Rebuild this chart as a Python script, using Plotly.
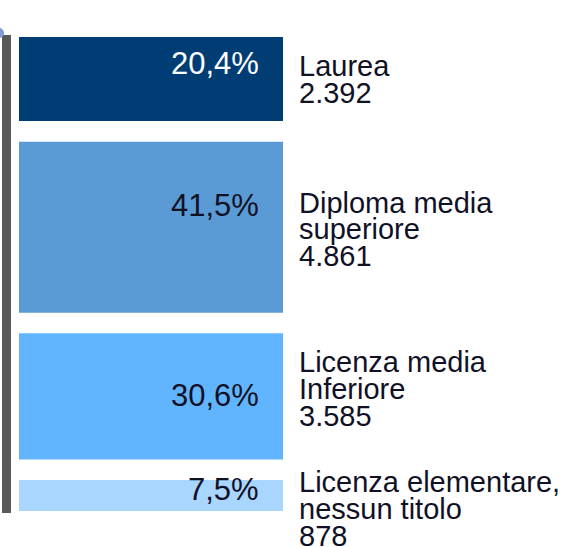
import plotly.graph_objects as go

# ---- data ----
categories = ["Laurea", "Diploma media superiore", "Licenza media Inferiore",
              "Licenza elementare, nessun titolo"]
category_lines = [["Laurea"], ["Diploma media", "superiore"],
                  ["Licenza media", "Inferiore"], ["Licenza elementare,", "nessun titolo"]]
percent = [20.4, 41.5, 30.6, 7.5]
percent_labels = ["20,4%", "41,5%", "30,6%", "7,5%"]
counts = [2392, 4861, 3585, 878]
count_labels = ["2.392", "4.861", "3.585", "878"]

# ---- style ----
colors = ["#003d74", "#5b9bd5", "#61b5ff", "#a8d6ff"]
pct_colors = ["#ffffff", "#111126", "#111126", "#111126"]
pct_pos = [0.32, 0.374, 0.49, 0.29]      # vertical position of % label within bar
cat_pos = [0.344, 0.356, 0.23, 0.07]     # vertical position of first label line
GAP = 5.0
LINE = 6.5                                # line step in axis units
FONT = "Liberation Sans, Arial, sans-serif"
TEXT = "#111126"

W, H = 564, 547
MT = 37            # top of bars (px)
BARS_BOTTOM = 511  # bottom of last bar (px)

bases = []
acc = 0.0
for p in percent:
    bases.append(acc)
    acc += p + GAP
total = acc - GAP

k = (BARS_BOTTOM - MT) / total          # px per unit
ymax = total + (H - BARS_BOTTOM) / k    # extend axis down to figure bottom
ph = H - MT


def py(pix):
    return (H - pix) / ph


fig = go.Figure()
fig.add_trace(go.Bar(
    x=[151] * len(percent), y=percent, base=bases, width=264,
    marker=dict(color=colors, line=dict(width=0)),
    hoverinfo="skip", showlegend=False,
))

ann = []
for i, p in enumerate(percent):
    ann.append(dict(x=261, y=bases[i] + p * pct_pos[i], xref="x", yref="y",
                    text=percent_labels[i], showarrow=False,
                    xanchor="right", yanchor="middle",
                    font=dict(family=FONT, size=31, color=pct_colors[i])))
    lines = category_lines[i] + [count_labels[i]]
    y0 = bases[i] + p * cat_pos[i]
    for j, t in enumerate(lines):
        ann.append(dict(x=297, y=y0 + j * LINE, xref="x", yref="y",
                        text=t, showarrow=False, xanchor="left", yanchor="middle",
                        font=dict(family=FONT, size=29, color=TEXT)))

shapes = [
    dict(type="rect", xref="paper", yref="paper",
         x0=2 / W, x1=11 / W, y0=py(513), y1=py(35),
         fillcolor="#595959", line=dict(width=0), layer="above"),
    dict(type="circle", xref="paper", yref="paper",
         x0=-6 / W, x1=4 / W, y0=py(38), y1=py(28),
         fillcolor="#7f9bd3", line=dict(width=0), layer="above"),
]

fig.update_layout(
    width=W, height=H,
    margin=dict(l=0, r=0, t=MT, b=0, pad=0),
    paper_bgcolor="white", plot_bgcolor="white",
    xaxis=dict(range=[0, W], visible=False, fixedrange=True),
    yaxis=dict(range=[ymax, 0], visible=False, fixedrange=True),
    annotations=ann, shapes=shapes,
    font=dict(family=FONT),
)

fig.write_html("out.html", config={"displayModeBar": False},
               post_script="document.body.style.margin='0';document.body.style.overflow='hidden';")
